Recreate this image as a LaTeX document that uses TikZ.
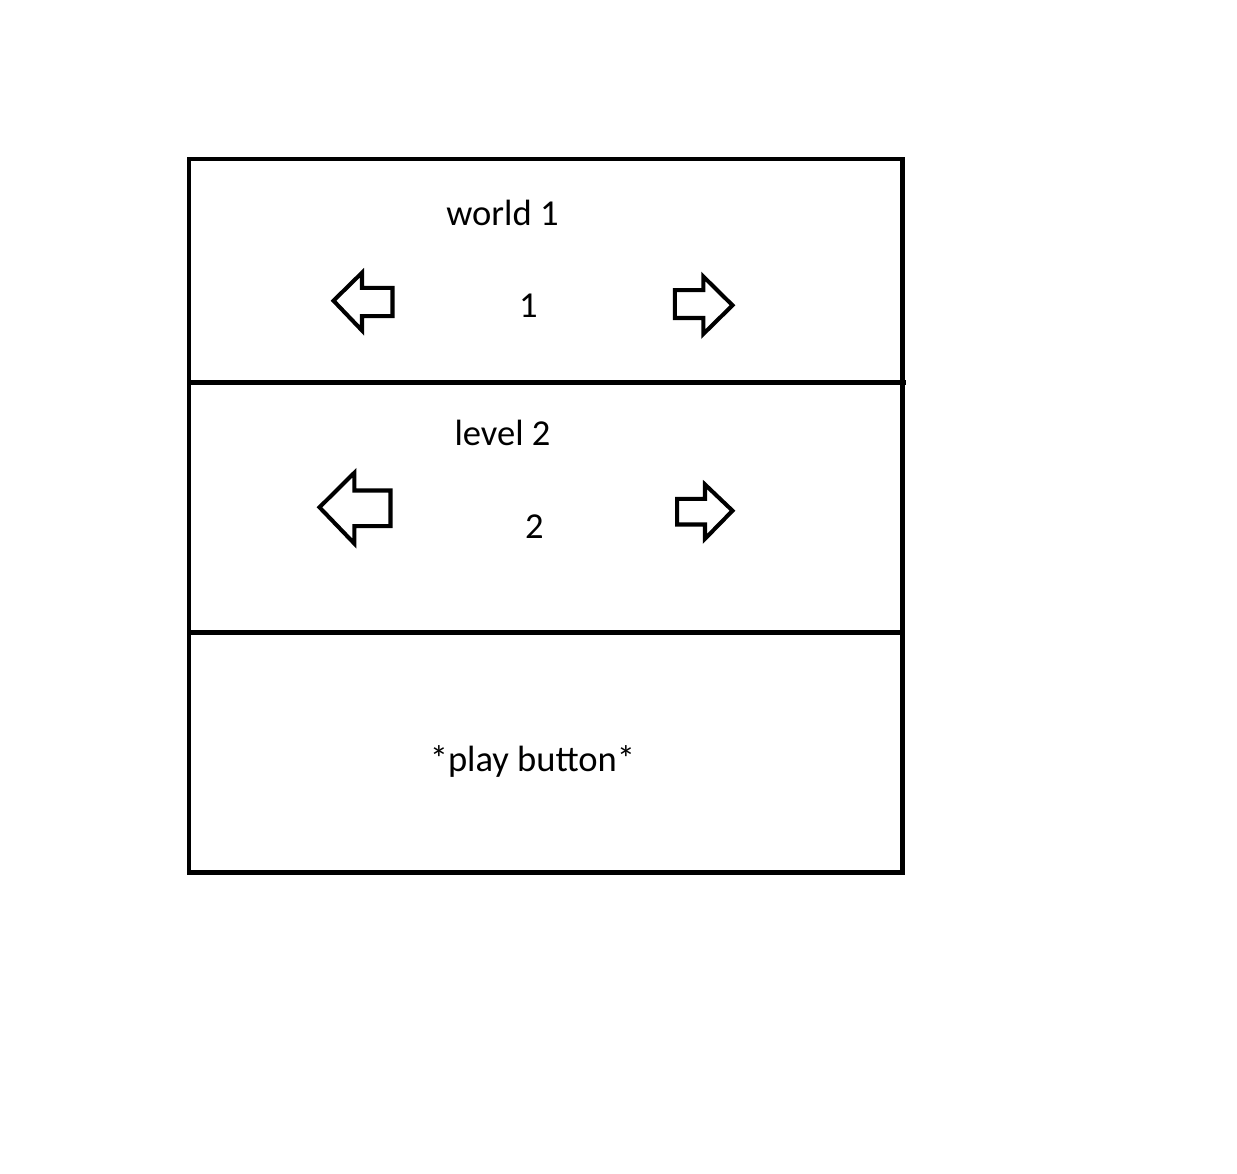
\documentclass[tikz,border=0pt]{standalone}
\usepackage{fontspec}
\setmainfont{Carlito}
\begin{document}
\begin{tikzpicture}[x = 0.02cm, y = -0.02cm, line width = 2.5pt,
        label/.style = {anchor = base, inner sep = 0pt, font = \fontsize{20.8}{25}\selectfont}]
        \useasboundingbox (0,0) rectangle (1237,1173);
        % frame and dividers
        \draw (189,159) rectangle (902.5,872.5);
        \draw (189,382.5) -- (906,382.5);
        \draw (189,632.5) -- (902.5,632.5);
        % texts
        \node[label] (world) at (502.5,225) {world 1};
        \node[label] (worldnum) at (528.3,317.3) {1};
        \node[label] (level) at (502.5,445) {level 2};
        \node[label] (levelnum) at (534.3,538.3) {2};
        \node[label] (play) at (532.5,771.7) {*play button*};
        % arrows
        \begin{scope}[line width = 2.3pt, line join = miter]
            \draw (333.5,300.7) -- (362,272.7) -- (362,287.8) -- (392.5,287.8) -- (392.5,316.2) -- (362,316.2) -- (362,330.5) -- cycle;
            \draw (732.5,305.3) -- (703.3,276.5) -- (703.3,290.2) -- (674.8,290.2) -- (674.8,318) -- (703.3,318) -- (703.3,334) -- cycle;
            \draw (319.5,507.3) -- (354.3,472.8) -- (354.3,490.5) -- (390.5,490.5) -- (390.5,526.2) -- (354.3,526.2) -- (354.3,543.5) -- cycle;
            \draw (732.5,510.7) -- (705,484.5) -- (705,498.8) -- (677.2,498.8) -- (677.2,524.5) -- (705,524.5) -- (705,538.8) -- cycle;
        \end{scope}
    \end{tikzpicture}
\end{document}
